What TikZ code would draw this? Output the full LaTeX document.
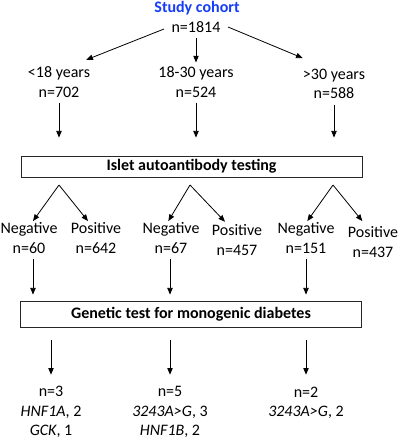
\documentclass[tikz,border=0pt]{standalone}
\usepackage{fontspec}
\setmainfont{Carlito}
\usetikzlibrary{arrows.meta,positioning}
\definecolor{cohortblue}{RGB}{20,60,250}

\begin{document}
\begin{tikzpicture}[x=0.75pt, y=-0.75pt, >={Triangle[length=5pt,width=4pt]},
    every node/.style={font=\fontsize{12}{14.6}\selectfont, align=center, inner sep=1pt},
    testbox/.style={draw=black!85, line width=0.6pt, minimum width=255.75pt},
    arr/.style={->, line width=0.6pt}]
    \useasboundingbox (0,0) rectangle (401,440);

    % 总人群
    \node[text=cohortblue, font=\fontsize{12}{14.6}\selectfont\bfseries] (title) at (197,8) {Study cohort};
    \node (total) at (196,27) {n=1814};

    % 年龄分组
    \node (age1) at (59,82) {<18 years\\n=702};
    \node (age2) at (196,82) {18-30 years\\n=524};
    \node (age3) at (334,84) {>30 years\\n=588};
    \draw[arr] ([xshift=-4.5pt,yshift=-1.5pt]total.west) -- ([xshift=-4pt,yshift=4pt]age1.north east);
    \draw[arr, shorten <=3pt] (total.south) -- ([yshift=2pt]age2.north);
    \draw[arr] ([xshift=4.5pt]total.east) -- ([xshift=1pt,yshift=7pt]age3.north west);

    % 自身抗体检测
    \node[testbox, minimum height=15.75pt] (abtest) at (191.5,166.5) {\bfseries Islet autoantibody testing};
    \foreach \n in {1,2,3} {
        \draw[arr, shorten <=3pt, shorten >=13.5pt] (age\n.south) -- (age\n.south |- abtest.north);
    }

    % 阴性 / 阳性
    \node (neg1) at (29,238) {Negative\\n=60};
    \node (pos1) at (96,238) {Positive\\n=642};
    \node (neg2) at (171,238) {Negative\\n=67};
    \node (pos2) at (237,240) {Positive\\n=457};
    \node (neg3) at (306,238) {Negative\\n=151};
    \node (pos3) at (373,242) {Positive\\n=437};
    \coordinate (split1) at (59,185);
    \coordinate (split2) at (190,185);
    \coordinate (split3) at (333,185);
    \draw[arr] (split1) -- ([xshift=3pt]neg1.north);
    \draw[arr] (split1) -- ([xshift=-6pt]pos1.north);
    \draw[arr] (split2) -- ([xshift=-2pt]neg2.north);
    \draw[arr] (split2) -- ([xshift=-9pt,yshift=1pt]pos2.north);
    \draw[arr] (split3) -- ([xshift=1pt]neg3.north);
    \draw[arr] (split3) -- ([xshift=-8pt,yshift=3pt]pos3.north);

    % 单基因糖尿病基因检测
    \node[testbox, minimum height=19.5pt] (gentest) at (191,314) {\bfseries Genetic test for monogenic diabetes};
    \draw[arr, shorten <=3pt, shorten >=4.5pt] ([xshift=3pt]neg1.south) -- ([xshift=3pt]neg1.south |- gentest.north);
    \draw[arr, shorten <=3pt, shorten >=4.5pt] ([xshift=-0.75pt]neg2.south) -- ([xshift=-0.75pt]neg2.south |- gentest.north);
    \draw[arr, shorten <=3pt, shorten >=4.5pt] (neg3.south) -- (neg3.south |- gentest.north);

    % 结果
    \node (res1) at (51,412) {n=3\\\textit{HNF1A}, 2\\\textit{GCK}, 1};
    \node (res2) at (170,412) {n=5\\\textit{3243A>G}, 3\\\textit{HNF1B}, 2};
    \node (res3) at (306,403) {n=2\\\textit{3243A>G}, 2};
    \foreach \n in {1,2,3} {
        \draw[arr, shorten <=9.75pt] (res\n.north |- gentest.south) -- ([yshift=7.5pt]res\n.north |- res1.north);
    }
\end{tikzpicture}
\end{document}
